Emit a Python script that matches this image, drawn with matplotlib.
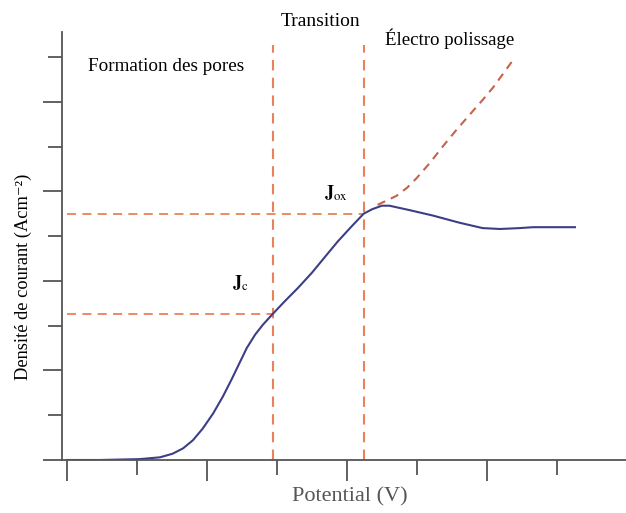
import matplotlib.pyplot as plt

# polarisation curve (potential in tick units, current density in tick units)
potential = [0.0, 0.47, 1.04, 1.33, 1.51, 1.66, 1.80, 1.94, 2.09, 2.23, 2.36,
             2.44, 2.57, 2.69, 2.80, 2.94, 3.11, 3.30, 3.50, 3.69, 3.87, 4.07,
             4.24, 4.36, 4.50, 4.61, 4.90, 5.23, 5.61, 5.94, 6.19, 6.47, 6.66,
             7.26]
density = [0.0, 0.0, 0.01, 0.03, 0.07, 0.13, 0.22, 0.35, 0.52, 0.71, 0.91,
           1.04, 1.25, 1.40, 1.51, 1.63, 1.77, 1.92, 2.09, 2.27, 2.44, 2.61,
           2.75, 2.80, 2.84, 2.84, 2.79, 2.73, 2.65, 2.59, 2.58, 2.59, 2.60,
           2.60]

# branch without oxide film
ext_potential = [4.44, 4.71, 4.86, 5.00, 5.19, 5.37, 5.57, 5.76, 5.94, 6.09,
                 6.23, 6.36]
ext_density = [2.85, 2.95, 3.04, 3.15, 3.32, 3.50, 3.69, 3.86, 4.02, 4.16,
               4.31, 4.45]

E_c, J_c = 2.94, 1.63
E_ox, J_ox = 4.24, 2.75

plt.rcParams['font.family'] = ['Liberation Serif', 'DejaVu Serif']
plt.rcParams['mathtext.fontset'] = 'stix'

fig = plt.figure(figsize=(6.26, 5.13), dpi=100)
ax = fig.add_axes([62 / 626, 1 - 460 / 513, 1 - 62 / 626, (460 - 32) / 513])

guide = '#e8825a'
ax.plot([E_c, E_c], [0, 4.64], color=guide, lw=1.5, ls=(0, (5, 3.5)))
ax.plot([E_ox, E_ox], [0, 4.64], color=guide, lw=1.5, ls=(0, (5, 3.5)))
ax.plot([0, E_c], [J_c, J_c], color=guide, lw=1.3, ls=(0, (5, 3.5)))
ax.plot([0, E_ox], [J_ox, J_ox], color=guide, lw=1.3, ls=(0, (5, 3.5)))

ax.plot(ext_potential, ext_density, color='#c5634a', lw=1.5, ls=(0, (4, 3)))
ax.plot(potential, density, color='#3c3f86', lw=1.5,
        solid_joinstyle='round')

ax.set_xlim(-0.07, 7.99)
ax.set_ylim(0, 4.78)

for s in ['top', 'right']:
    ax.spines[s].set_visible(False)
for s in ['left', 'bottom']:
    ax.spines[s].set_color('#555555')
    ax.spines[s].set_linewidth(1.3)

ax.set_xticks([0, 2, 4, 6])
ax.set_xticks([1, 3, 5, 7], minor=True)
ax.set_yticks([0, 1, 2, 3, 4])
ax.set_yticks([0.5, 1.5, 2.5, 3.5, 4.5], minor=True)
ax.tick_params(which='major', length=14, width=1.3, color='#555555')
ax.tick_params(which='minor', length=10, width=1.3, color='#555555')
ax.tick_params(axis='x', which='major', length=15)
ax.tick_params(axis='x', which='minor', length=11)
ax.set_xticklabels([])
ax.set_yticklabels([])

ax.text(0.3, 4.4, 'Formation des pores', fontsize=13.8, va='center')
ax.text(3.63, 4.9, 'Transition', fontsize=14, ha='center', va='center',
        clip_on=False)
ax.text(4.55, 4.7, 'Électro polissage', fontsize=13.6, va='center',
        clip_on=False)
ax.text(3.68, 2.98, r'$\mathbf{J}_{\mathrm{ox}}$', fontsize=13, va='center')
ax.text(2.36, 1.97, r'$\mathbf{J}_{\mathrm{c}}$', fontsize=13, va='center')

fig.text(350 / 626, 1 - 497 / 513, 'Potential (V)', fontsize=16,
         color='#555555', ha='center', va='center')
fig.text(23 / 626, 1 - 277 / 513, 'Densité de courant (Acm⁻²)',
         fontsize=13.2, rotation=90, ha='center', va='center')

fig.savefig('out.png', dpi=100)
